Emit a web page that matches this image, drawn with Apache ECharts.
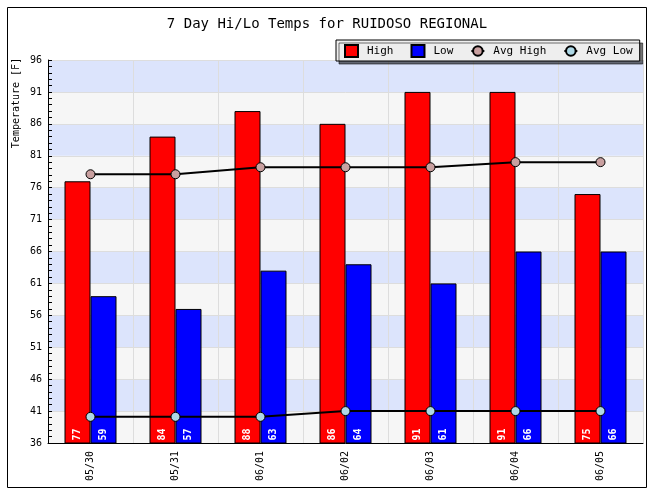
<!DOCTYPE html>
<html>
<head>
<meta charset="utf-8">
<script src="https://cdn.jsdelivr.net/npm/echarts@6/dist/echarts.min.js"></script>
<style>
  html, body { margin: 0; padding: 0; background: #fff; }
  #chart { width: 654px; height: 493px; }
</style>
</head>
<body>
<div id="chart"></div>
<script>
let days = ["05/30", "05/31", "06/01", "06/02", "06/03", "06/04", "06/05"];
let highs = [77, 84, 88, 86, 91, 91, 75];
let lows = [59, 57, 63, 64, 61, 66, 66];
let avgHighs = [78.1, 78.1, 79.2, 79.2, 79.2, 80.0, 80.0];
let avgLows = [40.1, 40.1, 40.1, 41.0, 41.0, 41.0, 41.0];

let font = "DejaVu Sans Mono";
let myEcharts = echarts.init(document.getElementById("chart"));

//柱子里的白色竖排数字
let barLabel = {
    show: true,
    position: "insideBottom",
    rotate: 90,
    align: "left",
    verticalAlign: "middle",
    distance: 3,
    color: "#fff",
    fontFamily: font,
    fontWeight: "bold",
    fontSize: 10
};

let option = {
    animation: false,
    textStyle: { fontFamily: font },
    title: {
        text: "7 Day Hi/Lo Temps for RUIDOSO REGIONAL",
        left: "center",
        top: 12,
        textStyle: { fontFamily: font, fontSize: 14, fontWeight: "normal", color: "#000" }
    },
    legend: {
        left: 336,
        top: 40,
        padding: [4, 7, 3, 8],
        itemWidth: 13,
        itemHeight: 12,
        itemGap: 17,
        backgroundColor: "#eeeeee",
        borderColor: "#000",
        borderWidth: 1,
        shadowColor: "rgba(0,0,0,0.55)",
        shadowBlur: 0,
        shadowOffsetX: 3,
        shadowOffsetY: 3,
        textStyle: { fontFamily: font, fontSize: 11, color: "#000", padding: [0, 0, 0, 4] },
        data: [
            { name: "High", icon: "rect" },
            { name: "Low", icon: "rect" },
            "Avg High",
            "Avg Low"
        ]
    },
    graphic: [
        {
            type: "rect",
            shape: { x: 7.5, y: 7.5, width: 639, height: 480 },
            style: { fill: "none", stroke: "#000", lineWidth: 1 },
            silent: true
        },
        {
            type: "text",
            x: 16,
            y: 103,
            rotation: Math.PI / 2,
            style: {
                text: "Temperature [F]",
                fontFamily: font,
                fontSize: 10,
                fill: "#000",
                align: "center",
                verticalAlign: "middle"
            }
        }
    ],
    grid: { left: 48, top: 60, right: 11, bottom: 50 },
    xAxis: {
        type: "category",
        data: days,
        boundaryGap: true,
        axisLine: { lineStyle: { color: "#000", width: 1 } },
        axisTick: { inside: true, length: 5, lineStyle: { color: "#000" } },
        axisLabel: { rotate: 90, fontFamily: font, fontSize: 10, color: "#000", margin: 8 },
        splitLine: { show: true, lineStyle: { color: "#dddddd", width: 1 } }
    },
    yAxis: {
        type: "value",
        min: 36,
        max: 96,
        interval: 5,
        axisLine: { show: true, lineStyle: { color: "#000", width: 1 } },
        axisTick: { show: true, inside: true, length: 4, lineStyle: { color: "#000" } },
        minorTick: { show: true, splitNumber: 5, length: 4, lineStyle: { color: "#000" } },
        axisLabel: { fontFamily: font, fontSize: 10, color: "#000", margin: 6 },
        splitLine: { show: true, lineStyle: { color: "#dddddd", width: 1 } },
        splitArea: { show: true, areaStyle: { color: ["#f6f6f6", "#dce4fc"] } }
    },
    series: [
        {
            name: "High",
            type: "bar",
            data: highs,
            barWidth: 26,
            barGap: "0%",
            itemStyle: { color: "#ff0000", borderColor: "#000", borderWidth: 1 },
            label: barLabel
        },
        {
            name: "Low",
            type: "bar",
            data: lows,
            barWidth: 26,
            barGap: "0%",
            itemStyle: { color: "#0000ff", borderColor: "#000", borderWidth: 1 },
            label: barLabel
        },
        {
            name: "Avg High",
            type: "line",
            data: avgHighs,
            symbol: "circle",
            symbolSize: 9,
            lineStyle: { color: "#000", width: 2 },
            itemStyle: { color: "#c9a0a0", borderColor: "#000", borderWidth: 1 },
            z: 5
        },
        {
            name: "Avg Low",
            type: "line",
            data: avgLows,
            symbol: "circle",
            symbolSize: 9,
            lineStyle: { color: "#000", width: 2 },
            itemStyle: { color: "#aed8e6", borderColor: "#000", borderWidth: 1 },
            z: 5
        }
    ]
};
myEcharts.setOption(option);
</script>
</body>
</html>
